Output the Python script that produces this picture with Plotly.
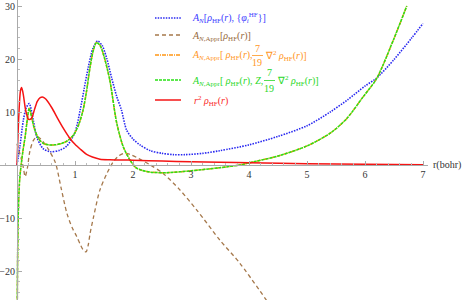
import plotly.graph_objects as go

# ---------------- data ----------------
r_red = [0, 0.03, 0.06, 0.08, 0.11, 0.15, 0.2, 0.25, 0.3, 0.35, 0.4, 0.45, 0.5, 0.6, 0.7, 0.8, 0.9,
         1.0, 1.1, 1.2, 1.3, 1.43, 1.6, 1.8, 2.0, 2.5, 3.0, 3.5, 4.0, 5.0, 6.0, 7.0]
y_red = [0, 9, 14, 14.6, 13.2, 10.3, 8.6, 8.8, 10.4, 12, 12.7, 12.8, 12.4, 10.8, 8.8, 6.9, 5.2,
         3.9, 2.9, 2.0, 1.5, 1.1, 1.0, 0.95, 0.9, 0.75, 0.6, 0.5, 0.42, 0.25, 0.12, 0.05]

r_blue = [0, 0.05, 0.11, 0.16, 0.21, 0.28, 0.34, 0.45, 0.57, 0.74, 0.86, 1.0, 1.09, 1.16, 1.23, 1.31,
          1.39, 1.47, 1.55, 1.63, 1.72, 1.8, 1.89, 2.0, 2.12, 2.3, 2.5, 2.7, 2.9, 3.2, 3.5, 4.0, 4.5,
          5.0, 5.4, 5.7, 6.0, 6.2, 6.5, 6.8, 7.0]
y_blue = [0, 3.5, 8.5, 10.8, 11.6, 8.5, 5.3, 3.1, 2.5, 2.8, 3.6, 6.2, 10.4, 14.5, 18.5, 22,
          23.4, 22.5, 20, 16.5, 12.9, 10.4, 6.6, 4.9, 3.8, 2.7, 2.2, 1.95, 1.95, 2.2, 2.7, 3.8, 5.4,
          7.4, 10.0, 12.3, 14.9, 16.4, 19.9, 23.9, 26.7]

r_green = [0.002, 0.01, 0.02, 0.035, 0.05, 0.1, 0.14, 0.18, 0.21, 0.25, 0.29, 0.37, 0.45, 0.55, 0.65,
           0.75, 0.86, 0.97, 1.06, 1.14, 1.2, 1.26, 1.32, 1.37, 1.43, 1.5, 1.6, 1.72, 1.83, 1.95,
           2.05, 2.15, 2.3, 2.58, 3.0, 3.5, 3.84, 4.0, 4.5, 5.0, 5.4, 5.68, 5.97, 6.2, 6.49, 6.72]
y_green = [-32, -18, -10, -5, -2.2, 2.5, 5.3, 8.8, 10.7, 9.2, 7.2, 5.0, 4.1, 3.8, 3.8,
           4.0, 4.5, 5.6, 7.5, 10.4, 14, 18.5, 21.8, 23.1, 22.6, 20.5, 16, 7.9, 3.5, 0.9,
           -0.5, -1.0, -1.35, -1.45, -1.1, -0.5, 0, 0.4, 1.7, 3.6, 6.0, 8.7, 12.9, 16.3, 23.6, 30]

# orange curve lies under the green one in the picture
r_orange = list(r_green)
y_orange = list(y_green)

r_brown = [0.0, 0.04, 0.08, 0.11, 0.14, 0.18, 0.22, 0.28, 0.34, 0.4, 0.45, 0.55, 0.66, 0.76, 0.86,
           0.95, 1.03, 1.1, 1.14, 1.19, 1.23, 1.26, 1.32, 1.43, 1.55, 1.66, 1.75, 1.84, 1.95, 2.1,
           2.3, 2.52, 2.8, 3.1, 3.5, 3.84, 4.3]
y_brown = [4, 2.5, 0.9, -0.5, -2.2, -0.5, 2.5, 4.6, 5.3, 5.0, 4.4, 2.8, 0.5, -4.3, -9.1,
           -11.8, -13.5, -15.2, -16, -16.4, -15, -12.9, -9.8, -4.7, -1.6, 0.6, 1.7, 2.2, 2.0, 1.2,
           0.0, -1.6, -4.6, -8.5, -14.2, -18.5, -25.5]

x_tickvals = [1, 2, 3, 4, 5, 6, 7]
x_ticktext = ["1", "2", "3", "4", "5", "6", "7"]
y_tickvals = [-20, -10, 10, 20, 30]
y_ticktext = ["\u221220", "\u221210", "10", "20", "30"]

# ---------------- figure ----------------
W, H = 463, 300
C_BLUE = "rgb(40,40,240)"
C_BROWN = "rgb(165,120,75)"
C_ORANGE = "rgb(255,150,20)"
C_GREEN = "rgb(40,225,20)"
C_RED = "rgb(245,20,20)"
SERIF = "Liberation Serif, Times New Roman, Times, serif"

BLUE_DASH = "1.5px,1.2px"

fig = go.Figure()

def add(x, y, color, dash, width=1.5):
    fig.add_trace(go.Scatter(x=x, y=y, mode="lines", showlegend=False, hoverinfo="skip",
                             line=dict(color=color, width=width, dash=dash,
                                       shape="spline", smoothing=0.8)))

add(r_blue, y_blue, C_BLUE, BLUE_DASH, 1.6)
add(r_brown, y_brown, C_BROWN, "4px,3px", 1.3)
add(r_orange, y_orange, C_ORANGE, "4px,1px,1px,1px", 1.5)
add(r_green, y_green, C_GREEN, "3px,1px", 1.5)
add(r_red, y_red, C_RED, "solid", 1.5)

xdom = 428.0 / W
x0px, px_per_x = 17.0, 58.0
y0px, px_per_y = 165.0, 5.3

fig.update_layout(
    width=W, height=H,
    margin=dict(l=0, r=0, t=0, b=0, pad=0, autoexpand=False),
    paper_bgcolor="white", plot_bgcolor="white",
    font=dict(family=SERIF),
    xaxis=dict(domain=[0, xdom],
               range=[-x0px / px_per_x, (xdom * W - x0px) / px_per_x],
               anchor="free", position=(H - y0px) / H, automargin=False,
               showline=True, linecolor="#aaaaaa", linewidth=1,
               showgrid=False, zeroline=False,
               ticks="inside", ticklen=4, tickcolor="#aaaaaa",
               tickvals=x_tickvals, ticktext=x_ticktext,
               tickfont=dict(family=SERIF, size=10, color="#333333"),
               minor=dict(ticks="inside", ticklen=2, tickcolor="#bbbbbb",
                          tick0=0, dtick=0.2, showgrid=False)),
    yaxis=dict(range=[-(H - y0px) / px_per_y, y0px / px_per_y],
               anchor="free", position=x0px / W, automargin=False,
               showline=True, linecolor="#aaaaaa", linewidth=1,
               showgrid=False, zeroline=False,
               ticks="inside", ticklen=4, tickcolor="#aaaaaa",
               tickvals=y_tickvals, ticktext=y_ticktext,
               tickfont=dict(family=SERIF, size=10, color="#333333"),
               minor=dict(ticks="inside", ticklen=2, tickcolor="#bbbbbb",
                          tick0=0, dtick=2, showgrid=False)),
)

# axis label
fig.add_annotation(x=1.0, y=1 - y0px / H, xref="paper", yref="paper",
                   text="r(bohr)", showarrow=False, xanchor="right", yanchor="middle",
                   font=dict(family=SERIF, size=10, color="#333333"))

# ---------------- legend (manual) ----------------
def px2p(x, y):
    return x / W, 1 - y / H

legend_rows = [
    (18, C_BLUE, BLUE_DASH, 1.6),
    (35, C_BROWN, "4px,3px", 1.3),
    (55, C_ORANGE, "4px,1px,1px,1px", 1.5),
    (80, C_GREEN, "3px,1px", 1.5),
    (100, C_RED, "solid", 1.5),
]
for yc, col, dash, w in legend_rows:
    xa, ya = px2p(155, yc)
    xb, _ = px2p(181, yc)
    fig.add_shape(type="line", xref="paper", yref="paper", x0=xa, x1=xb, y0=ya, y1=ya,
                  line=dict(color=col, width=w, dash=dash))

def txt(x, y, s, col, anchor="left", size=10):
    xp, yp = px2p(x, y)
    fig.add_annotation(x=xp, y=yp, xref="paper", yref="paper", text=s, showarrow=False,
                       xanchor=anchor, yanchor="middle", borderpad=0,
                       font=dict(family=SERIF, size=size, color=col))

TB = "rgb(60,60,255)"
TBR = "rgb(150,105,60)"
TO = "rgb(255,150,30)"
TG = "rgb(40,215,40)"
TR = "rgb(250,40,40)"

txt(191, 18, "<i>A<sub>N</sub></i>[<i>ρ</i><sub>HF</sub>(<i>r</i>), {<i>φ</i><sub><i>i</i></sub><sup>HF</sup>}]", TB)
txt(191, 36, "<i>A<sub>N</sub></i><sub>,Appr</sub>[<i>ρ</i><sub>HF</sub>(<i>r</i>)]", TBR)

txt(191, 56, "<i>A<sub>N</sub></i><sub>,Appr</sub>[ <i>ρ</i><sub>HF</sub>(<i>r</i>),", TO)
txt(257, 48, "7", TO, "center")
txt(257, 63, "19", TO, "center")
xa, ya = px2p(252, 55.5)
xb, _ = px2p(263, 55.5)
fig.add_shape(type="line", xref="paper", yref="paper", x0=xa, x1=xb, y0=ya, y1=ya,
              line=dict(color=TO, width=0.8))
txt(264, 56, "∇<sup>2</sup> <i>ρ</i><sub>HF</sub>(<i>r</i>)]", TO)

txt(191, 81, "<i>A<sub>N</sub></i><sub>,Appr</sub>[ <i>ρ</i><sub>HF</sub>(<i>r</i>), <i>Z</i>,", TG)
txt(269, 72, "7", TG, "center")
txt(269, 88, "19", TG, "center")
xa, ya = px2p(264, 80.5)
xb, _ = px2p(275, 80.5)
fig.add_shape(type="line", xref="paper", yref="paper", x0=xa, x1=xb, y0=ya, y1=ya,
              line=dict(color=TG, width=0.8))
txt(276, 81, "∇<sup>2</sup> <i>ρ</i><sub>HF</sub>(<i>r</i>)]", TG)

txt(193, 101, "<i>r</i><sup>2</sup> <i>ρ</i><sub>HF</sub>(<i>r</i>)", TR)

fig.write_html("out.html", config={"displayModeBar": False},
               post_script="document.body.style.margin='0';document.body.style.padding='0';")
